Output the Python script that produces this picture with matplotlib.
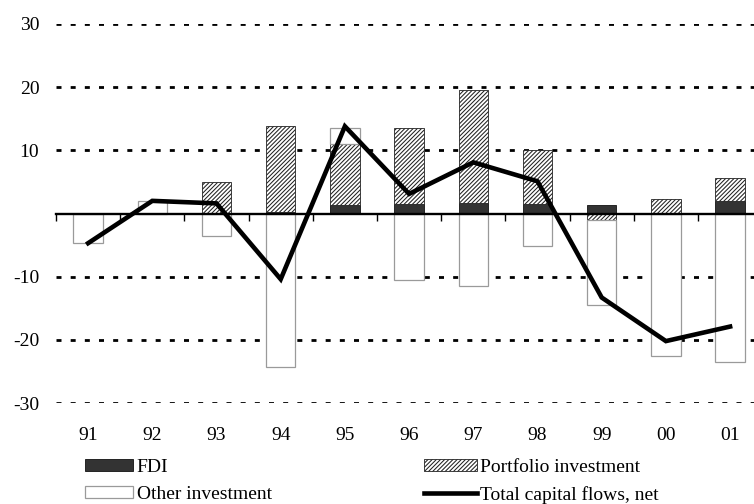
import numpy as np
import matplotlib
matplotlib.use("Agg")
import matplotlib.pyplot as plt
from matplotlib.patches import Patch
from matplotlib.lines import Line2D

years = ['91', '92', '93', '94', '95', '96', '97', '98', '99', '00', '01']
fdi = [0.0, 0.0, 0.0, 0.3, 1.4, 1.5, 1.65, 1.5, 1.3, 0.1, 2.0]
portfolio = [0.0, 0.0, 5.0, 13.6, 9.6, 12.0, 17.85, 8.6, -1.0, 2.2, 3.6]
other = [-4.7, 2.0, -3.5, -24.3, 2.6, -10.6, -11.4, -5.1, -13.5, -22.6, -23.5]
total = [-4.7, 2.0, 1.6, -10.4, 13.8, 3.1, 8.1, 5.1, -13.3, -20.2, -17.9]
yticks = [-30, -20, -10, 0, 10, 20, 30]
ytick_labels = ['-30', '-20', '-10', '', '10', '20', '30']

plt.rcParams['font.family'] = ['Liberation Serif', 'DejaVu Serif']
plt.rcParams['axes.unicode_minus'] = False
plt.rcParams['hatch.linewidth'] = 0.75
plt.rcParams['lines.scale_dashes'] = False
FS = 14

fig = plt.figure(figsize=(7.54, 5.04), dpi=100)
ax = fig.add_axes([56 / 754, 101 / 504, 706.2 / 754, 379 / 504])

x = np.arange(len(years))
w = 0.46
pos_base = np.zeros(len(years))
neg_base = np.zeros(len(years))
styles = [
    dict(facecolor='#333333', edgecolor='#111111', linewidth=0.6),
    dict(facecolor='white', edgecolor='#222222', linewidth=0.6, hatch='////////'),
    dict(facecolor='white', edgecolor='#9a9a9a', linewidth=0.9),
]
for vals, st in zip([fdi, portfolio, other], styles):
    v = np.array(vals)
    bottom = np.where(v >= 0, pos_base, neg_base)
    ax.bar(x, v, width=w, bottom=bottom, zorder=1, **st)
    pos_base = pos_base + np.where(v > 0, v, 0)
    neg_base = neg_base + np.where(v < 0, v, 0)

ax.plot(x, total, color='black', linewidth=3.3, zorder=4, solid_joinstyle='miter')

ax.set_xlim(-0.5, len(years) - 0.5)
ax.set_ylim(-30, 30)
ax.set_axisbelow(True)

# y axis
ax.set_yticks(yticks)
ax.set_yticklabels(ytick_labels, fontsize=FS)
ax.tick_params(axis='y', length=0, pad=12)
ax.grid(axis='y', color='black', linewidth=2.0, linestyle=(0, (3.6, 6.6)))
for val, gl in zip(yticks, ax.get_ygridlines()):
    if val == 0:
        gl.set_visible(False)
ax.grid(axis='x', visible=False)

for s in ['left', 'right', 'top']:
    ax.spines[s].set_visible(False)
ax.spines['bottom'].set_position(('data', 0))
ax.spines['bottom'].set_linewidth(1.7)
ax.spines['bottom'].set_zorder(2.5)
ax.set_xticks(np.arange(len(years) + 1) - 0.5)
ax.set_xticklabels([])
ax.tick_params(axis='x', direction='out', length=5, width=1.0)

sec = ax.secondary_xaxis('bottom')
sec.set_xticks(x)
sec.set_xticklabels(years, fontsize=FS)
sec.tick_params(length=0, pad=17)
sec.spines['bottom'].set_visible(False)

common = dict(loc='upper left', frameon=False, fontsize=FS, handleheight=0.6,
              handletextpad=0.2, labelspacing=0.5, borderpad=0, borderaxespad=0)
leg1 = fig.legend([Patch(**styles[0]), Patch(**styles[2])], ['FDI', 'Other investment'],
                  bbox_to_anchor=(85 / 754, 1 - 459 / 504), handlelength=2.45, **common)
leg2 = fig.legend([Patch(**styles[1]), Line2D([0], [0], color='black', linewidth=3.3)],
                  ['Portfolio investment', 'Total capital flows, net'],
                  bbox_to_anchor=(424 / 754, 1 - 459 / 504), handlelength=2.7, **common)

fig.savefig('out.png', dpi=100)
